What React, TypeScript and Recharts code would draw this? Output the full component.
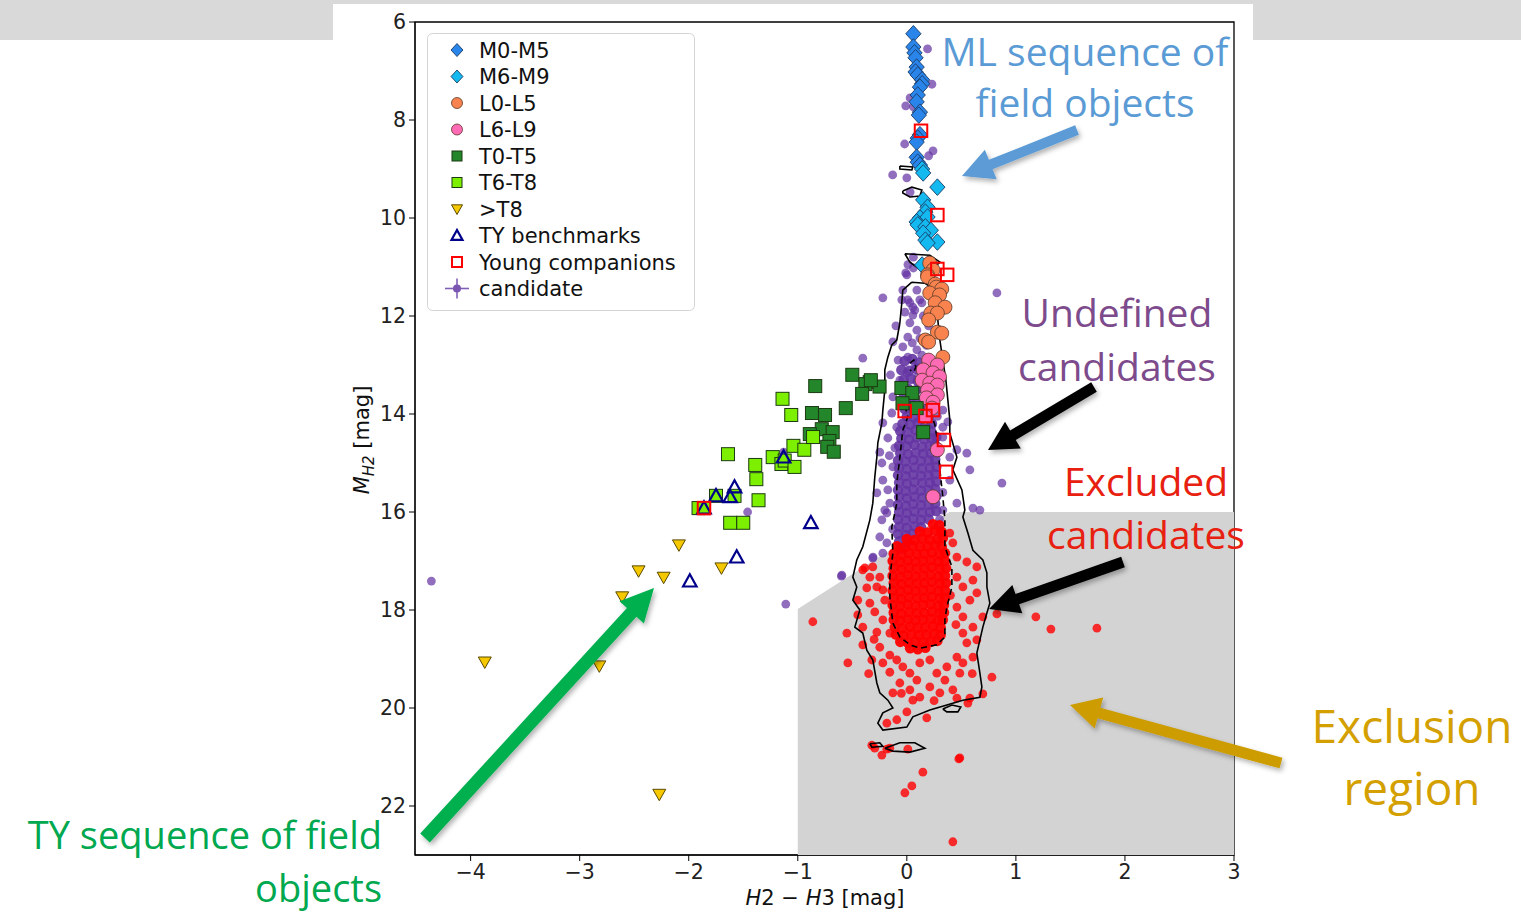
import React from 'react';
import { ScatterChart, Scatter, XAxis, YAxis, ReferenceArea, Legend } from 'recharts';

// ---------- axis ticks ----------
const xTicks = [-4, -3, -2, -1, 0, 1, 2, 3];
const yTicks = [6, 8, 10, 12, 14, 16, 18, 20, 22];

// ---------- exclusion region & contours (x = H2-H3, y = M_H2) ----------
const exclusionRegion = [[-1, 23], [-1, 17.98], [0.39, 16], [3, 16], [3, 23], [-1, 23]];

const outerContour = [
  [0.046, 11.31], [0.165, 11.33], [0.257, 11.47], [0.275, 11.78], [0.284, 12.08], [0.303, 12.49], [0.33, 12.9],
  [0.358, 13.31], [0.376, 13.71], [0.394, 14.12], [0.394, 14.39], [0.459, 14.88], [0.422, 15.14], [0.505, 15.55],
  [0.532, 15.96], [0.514, 16.1], [0.56, 16.43], [0.606, 16.78], [0.697, 16.98], [0.734, 17.24], [0.734, 17.53],
  [0.761, 17.86], [0.734, 18.06], [0.697, 18.35], [0.67, 18.61], [0.642, 18.88], [0.67, 19.29], [0.688, 19.57],
  [0.67, 19.78], [0.514, 19.84], [0.367, 19.94], [0.211, 20.04], [0.055, 20.18], [0.0, 20.39], [-0.22, 20.45],
  [-0.266, 20.31], [-0.22, 20.1], [-0.128, 20.0], [-0.174, 19.84], [-0.248, 19.69], [-0.275, 19.49], [-0.312, 19.02],
  [-0.367, 18.82], [-0.404, 18.47], [-0.477, 18.35], [-0.431, 18.0], [-0.495, 17.8], [-0.459, 17.53], [-0.495, 17.33],
  [-0.459, 16.98], [-0.404, 16.71], [-0.339, 16.16], [-0.312, 15.82], [-0.294, 15.29], [-0.275, 14.88], [-0.266, 14.59],
  [-0.229, 14.18], [-0.22, 13.92], [-0.202, 13.51], [-0.202, 13.1], [-0.174, 12.84], [-0.138, 12.59], [-0.092, 12.49],
  [-0.064, 12.14], [-0.046, 11.73], [-0.037, 11.47], [0.046, 11.31],
];
const innerContour = [
  [-0.018, 13.82], [0.165, 13.78], [0.211, 13.92], [0.257, 14.22], [0.284, 14.59], [0.303, 15.14], [0.33, 15.69],
  [0.349, 16.16], [0.349, 16.71], [0.413, 17.12], [0.413, 17.53], [0.367, 17.94], [0.349, 18.2], [0.349, 18.55],
  [0.275, 18.71], [0.119, 18.78], [0.028, 18.71], [-0.064, 18.55], [-0.128, 18.27], [-0.156, 17.73], [-0.156, 17.33],
  [-0.128, 16.84], [-0.138, 16.31], [-0.092, 15.82], [-0.092, 15.41], [-0.064, 14.88], [-0.037, 14.33], [0.009, 14.06],
  [-0.018, 13.82],
];
const loopA = [[-0.018, 10.73], [0.211, 10.76], [0.303, 10.9], [0.229, 11.06], [0.101, 11.02], [0.028, 10.9], [-0.018, 10.73]];
const loopB = [[-0.037, 9.45], [0.046, 9.37], [0.138, 9.43], [0.119, 9.55], [0.028, 9.57], [-0.037, 9.49], [-0.037, 9.45]];
const loopC = [[-0.064, 8.94], [0.055, 8.96], [0.046, 9.02], [-0.064, 9.0], [-0.064, 8.94]];
const loopD = [[0.33, 20.02], [0.413, 19.94], [0.495, 19.98], [0.468, 20.08], [0.367, 20.08], [0.33, 20.02]];
const loopE = [[-0.202, 20.82], [-0.064, 20.71], [0.073, 20.71], [0.165, 20.82], [0.028, 20.9], [-0.128, 20.88], [-0.202, 20.82]];
const loopF = [[-0.339, 20.73], [-0.248, 20.71], [-0.22, 20.78], [-0.321, 20.8], [-0.339, 20.73]];
const loopG = [[0.028, 12.96], [0.064, 12.9], [0.083, 13.04], [0.064, 13.14], [0.028, 13.1]];

// ---------- candidates ----------
const candidatesSparse = [
  [-0.22, 11.63], [-0.018, 11.92], [0.055, 11.98], [0.028, 12.14], [0.092, 12.29], [0.009, 12.43], [-0.128, 12.53],
  [-0.037, 12.63], [0.092, 12.69], [0.138, 12.8], [0.009, 12.84], [-0.404, 12.86], [0.073, 13.04], [0.0, 13.16],
  [-0.064, 13.31], [0.101, 13.24], [-0.128, 13.65], [0.0, 13.76], [-0.138, 13.98], [0.33, 13.92], [0.376, 14.16],
  [-0.22, 14.18], [-0.092, 14.27], [0.33, 14.27], [-0.174, 14.49], [0.33, 14.47], [-0.11, 14.69], [-0.248, 14.78],
  [0.394, 14.88], [0.459, 14.73], [0.55, 14.8], [0.578, 15.14], [-0.229, 15.0], [-0.128, 15.08], [-0.22, 15.35],
  [0.394, 15.35], [-0.275, 15.61], [-0.156, 15.82], [-0.202, 15.96], [0.459, 15.82], [0.67, 15.96], [-0.174, 15.55],
  [0.33, 15.96], [-0.229, 16.16], [-0.183, 16.02], [-0.248, 16.51], [-0.22, 16.84], [-0.312, 16.94], [-0.596, 17.29],
  [-0.183, 16.63], [0.606, 15.92], [0.0, 11.16], [0.092, 11.47], [0.009, 11.67], [0.138, 11.73], [0.055, 11.82],
  [-0.037, 11.47], [-0.046, 11.67], [0.028, 11.73], [0.073, 11.88], [0.826, 11.53], [0.119, 11.67], [0.15, 12.0],
  [0.2, 12.2], [0.12, 12.45], [0.18, 12.6], [-0.08, 12.9], [0.05, 12.55], [0.2, 12.95], [-0.1, 12.2], [0.16, 13.45],
  [-0.15, 13.2], [0.28, 14.05], [-0.16, 14.85], [0.33, 15.6], [-0.13, 16.35], [0.3, 16.15],
  [-4.36, 17.41], [-1.11, 17.88], [-1.46, 16.0], [-0.6, 17.31], [-0.31, 16.92], [0.872, 15.41], [-1.13, 14.78],
  [0.19, 6.55], [0.23, 7.27], [-0.01, 7.71], [0.06, 7.73], [0.03, 7.55], [-0.02, 8.49], [0.24, 8.63], [0.2, 8.73],
  [-0.13, 9.12], [0.0, 9.18], [0.03, 9.47], [0.06, 10.8], [-0.01, 11.12], [0.06, 11.02], [0.01, 10.95],
];
const candidatesCore = [
  [-0.02, 12.92], [0.05, 12.88], [0.11, 12.95],
  [-0.05, 13.1], [0.02, 13.12], [0.09, 13.08], [0.14, 13.14],
  [-0.03, 13.3], [0.04, 13.28], [0.1, 13.33],
  [-0.06, 13.5], [0.01, 13.48], [0.08, 13.52], [0.13, 13.47],
  [-0.04, 13.7], [0.03, 13.68], [0.1, 13.72],
  [-0.02, 13.9], [0.05, 13.88], [0.12, 13.92], [0.18, 13.9],
  [0.0, 14.05], [0.07, 14.07], [0.14, 14.03], [0.2, 14.08],
  [-0.04, 14.2], [0.03, 14.22], [0.1, 14.18], [0.17, 14.21], [0.23, 14.2],
  [-0.06, 14.35], [0.01, 14.37], [0.08, 14.33], [0.15, 14.36], [0.22, 14.34],
  [-0.05, 14.5], [0.02, 14.52], [0.09, 14.48], [0.16, 14.51], [0.23, 14.5], [0.27, 14.47],
  [-0.07, 14.65], [0.0, 14.66], [0.07, 14.63], [0.14, 14.67], [0.21, 14.65], [0.26, 14.64],
  [-0.06, 14.8], [0.01, 14.82], [0.08, 14.79], [0.15, 14.81], [0.22, 14.8], [0.28, 14.78],
  [-0.08, 14.95], [-0.01, 14.97], [0.06, 14.94], [0.13, 14.96], [0.2, 14.95], [0.26, 14.93],
  [-0.07, 15.1], [0.0, 15.12], [0.07, 15.09], [0.14, 15.11], [0.21, 15.1], [0.27, 15.08],
  [-0.08, 15.25], [-0.01, 15.27], [0.06, 15.24], [0.13, 15.26], [0.2, 15.25], [0.26, 15.23],
  [-0.07, 15.4], [0.0, 15.42], [0.07, 15.39], [0.14, 15.41], [0.21, 15.4], [0.27, 15.38],
  [-0.08, 15.55], [-0.01, 15.57], [0.06, 15.54], [0.13, 15.56], [0.2, 15.55], [0.26, 15.53],
  [-0.07, 15.7], [0.0, 15.72], [0.07, 15.69], [0.14, 15.71], [0.21, 15.7], [0.27, 15.68],
  [-0.08, 15.85], [-0.01, 15.87], [0.06, 15.84], [0.13, 15.86], [0.2, 15.85], [0.26, 15.83],
  [-0.07, 16.0], [0.0, 16.02], [0.07, 15.99], [0.14, 16.01], [0.21, 16.0], [0.27, 15.98],
  [-0.08, 16.15], [-0.01, 16.17], [0.06, 16.14], [0.13, 16.16], [0.2, 16.15],
  [-0.07, 16.3], [0.0, 16.32], [0.07, 16.29], [0.13, 16.31],
  [-0.08, 16.45], [-0.01, 16.47], [0.05, 16.44],
  [-0.07, 16.6], [0.0, 16.62],
  [-0.06, 16.75],
];

// ---------- excluded candidates ----------
const excludedSparse = [
  [-0.385, 17.14], [-0.312, 17.12], [-0.248, 17.33], [-0.367, 17.55], [-0.275, 17.53], [-0.22, 17.59], [-0.45, 17.8],
  [-0.339, 17.86], [-0.202, 17.8], [-0.294, 18.04], [-0.22, 18.2], [-0.404, 18.35], [-0.55, 18.47], [-0.275, 18.45],
  [-0.156, 18.47], [-0.248, 18.76], [-0.404, 18.71], [-0.156, 18.92], [-0.321, 19.02], [-0.541, 19.08], [-0.22, 19.08],
  [-0.092, 19.02], [-0.037, 19.16], [-0.156, 19.27], [0.028, 19.29], [0.119, 19.08], [0.211, 19.02], [0.092, 19.43],
  [0.275, 19.29], [0.367, 19.16], [0.349, 19.43], [0.211, 19.57], [-0.064, 19.49], [0.028, 19.63], [-0.128, 19.69],
  [0.119, 19.78], [0.303, 19.69], [0.422, 19.63], [0.486, 19.29], [0.514, 19.08], [0.459, 18.96], [0.606, 18.96],
  [0.55, 18.67], [0.642, 18.61], [0.514, 18.47], [0.606, 18.35], [0.697, 18.14], [0.514, 18.14], [0.459, 17.94],
  [0.578, 17.8], [0.642, 17.65], [0.514, 17.53], [0.606, 17.39], [0.459, 17.33], [0.55, 17.02], [0.642, 17.12],
  [0.459, 16.92], [0.422, 16.63], [0.303, 16.37], [0.394, 16.43], [0.826, 18.08], [0.78, 19.37], [0.697, 19.71],
  [0.578, 19.8], [0.459, 19.8], [0.055, 19.84], [0.0, 20.08], [-0.092, 20.24], [-0.183, 20.31], [0.183, 20.2],
  [-0.156, 20.82], [0.009, 20.84], [-0.294, 20.82], [-0.229, 20.96], [0.486, 21.02], [-0.404, 17.18], [-0.339, 17.33],
  [-0.862, 18.24], [1.183, 18.14], [1.321, 18.39], [1.743, 18.37], [0.56, 19.9], [0.477, 21.04], [0.147, 21.31],
  [0.046, 21.59], [-0.018, 21.73], [0.422, 22.73], [-0.321, 20.76], [-0.183, 20.84],
  [-0.3, 18.6], [0.45, 18.3], [0.4, 17.7], [-0.35, 19.3], [0.25, 19.85], [-0.05, 19.7], [0.6, 19.3], [-0.45, 18.1],
];
const excludedCore = [
  [0.24, 16.25], [0.3, 16.27],
  [0.12, 16.4], [0.19, 16.42], [0.26, 16.38], [0.32, 16.41],
  [0.0, 16.55], [0.07, 16.57], [0.14, 16.54], [0.21, 16.56], [0.28, 16.55], [0.33, 16.53],
  [-0.09, 16.7], [-0.02, 16.72], [0.05, 16.69], [0.12, 16.71], [0.19, 16.7], [0.26, 16.68], [0.32, 16.71],
  [-0.12, 16.85], [-0.05, 16.87], [0.02, 16.84], [0.09, 16.86], [0.16, 16.85], [0.23, 16.83], [0.3, 16.86], [0.35, 16.84],
  [-0.13, 17.0], [-0.06, 17.02], [0.01, 16.99], [0.08, 17.01], [0.15, 17.0], [0.22, 16.98], [0.29, 17.01], [0.35, 17.0],
  [-0.12, 17.15], [-0.05, 17.17], [0.02, 17.14], [0.09, 17.16], [0.16, 17.15], [0.23, 17.13], [0.3, 17.16], [0.36, 17.15],
  [-0.13, 17.3], [-0.06, 17.32], [0.01, 17.29], [0.08, 17.31], [0.15, 17.3], [0.22, 17.28], [0.29, 17.31], [0.35, 17.3],
  [-0.12, 17.45], [-0.05, 17.47], [0.02, 17.44], [0.09, 17.46], [0.16, 17.45], [0.23, 17.43], [0.3, 17.46], [0.36, 17.45],
  [-0.13, 17.6], [-0.06, 17.62], [0.01, 17.59], [0.08, 17.61], [0.15, 17.6], [0.22, 17.58], [0.29, 17.61], [0.35, 17.6],
  [-0.12, 17.75], [-0.05, 17.77], [0.02, 17.74], [0.09, 17.76], [0.16, 17.75], [0.23, 17.73], [0.3, 17.76], [0.35, 17.75],
  [-0.13, 17.9], [-0.06, 17.92], [0.01, 17.89], [0.08, 17.91], [0.15, 17.9], [0.22, 17.88], [0.29, 17.91], [0.34, 17.9],
  [-0.12, 18.05], [-0.05, 18.07], [0.02, 18.04], [0.09, 18.06], [0.16, 18.05], [0.23, 18.03], [0.3, 18.06], [0.34, 18.05],
  [-0.12, 18.2], [-0.06, 18.22], [0.01, 18.19], [0.08, 18.21], [0.15, 18.2], [0.22, 18.18], [0.29, 18.21], [0.33, 18.2],
  [-0.11, 18.35], [-0.04, 18.37], [0.03, 18.34], [0.1, 18.36], [0.17, 18.35], [0.24, 18.33], [0.31, 18.36],
  [-0.1, 18.5], [-0.03, 18.52], [0.04, 18.49], [0.11, 18.51], [0.18, 18.5], [0.25, 18.48], [0.31, 18.51],
  [-0.06, 18.65], [0.01, 18.67], [0.08, 18.64], [0.15, 18.66], [0.22, 18.65], [0.28, 18.63],
  [0.03, 18.78], [0.1, 18.8], [0.17, 18.77],
];

// ---------- known objects ----------
const m0m5 = [
  [0.06, 6.24], [0.06, 6.51], [0.07, 6.63], [0.08, 6.73], [0.09, 6.92], [0.08, 7.02], [0.1, 7.08], [0.14, 7.18],
  [0.14, 7.26], [0.12, 7.33], [0.1, 7.49], [0.09, 7.63], [0.12, 7.84], [0.11, 7.9], [0.12, 8.3], [0.1, 8.37],
  [0.09, 8.45], [0.09, 8.76], [0.1, 8.86], [0.12, 8.92],
];
const m6m9 = [
  [0.14, 9.0], [0.15, 9.08], [0.28, 9.37], [0.15, 9.63], [0.19, 9.78], [0.17, 9.88], [0.12, 10.0], [0.19, 9.98],
  [0.09, 10.08], [0.1, 10.14], [0.17, 10.18], [0.22, 10.25], [0.15, 10.31], [0.17, 10.45], [0.28, 10.49],
  [0.19, 10.51], [0.14, 10.96],
];
const l0l5 = [
  [0.21, 10.92], [0.24, 11.06], [0.19, 11.16], [0.19, 11.2], [0.26, 11.35], [0.27, 11.41], [0.32, 11.45],
  [0.21, 11.53], [0.3, 11.57], [0.26, 11.73], [0.35, 11.82], [0.22, 11.94], [0.28, 11.94], [0.2, 12.08],
  [0.28, 12.33], [0.32, 12.35], [0.17, 12.49], [0.2, 12.53], [0.33, 12.84], [0.24, 13.04],
];
const l6l9 = [
  [0.2, 12.9], [0.28, 13.0], [0.15, 13.1], [0.24, 13.16], [0.3, 13.24], [0.14, 13.31], [0.21, 13.37], [0.28, 13.41],
  [0.19, 13.51], [0.28, 13.61], [0.18, 13.67], [0.24, 13.76], [0.23, 13.88], [0.17, 14.06], [0.28, 14.73], [0.24, 15.69],
];
const t0t5 = [
  [-0.84, 13.43], [-0.5, 13.2], [-0.34, 13.35], [-0.38, 13.39], [-0.41, 13.59], [-0.25, 13.44], [-0.33, 13.31],
  [-0.56, 13.88], [-0.87, 13.98], [-0.75, 14.02], [-0.78, 14.31], [-0.68, 14.37], [-0.89, 14.41], [-0.71, 14.55],
  [-0.73, 14.67], [-0.67, 14.77], [-0.05, 13.47], [0.05, 13.57], [-0.04, 13.78], [0.09, 13.88], [0.15, 14.37],
];
const t6t8 = [
  [-1.14, 13.69], [-1.06, 14.02], [-1.64, 14.82], [-1.39, 15.04], [-1.38, 15.33], [-1.36, 15.76], [-1.23, 14.88],
  [-1.15, 15.02], [-1.12, 14.95], [-1.04, 14.65], [-0.94, 14.73], [-1.03, 15.08], [-0.86, 14.47], [-1.62, 16.22],
  [-1.5, 16.22], [-1.75, 15.67], [-1.58, 15.67], [-1.91, 15.92], [-1.86, 15.92],
];
const lateT = [
  [-2.09, 16.67], [-2.46, 17.2], [-2.23, 17.33], [-2.61, 17.73], [-1.7, 17.14], [-3.87, 19.06], [-2.82, 19.14], [-2.27, 21.76],
];
const tyBenchmarks = [
  [-1.99, 17.41], [-1.56, 16.92], [-0.88, 16.22], [-1.13, 14.88], [-1.58, 15.49], [-1.62, 15.69], [-1.75, 15.67], [-1.86, 15.92],
];
const youngCompanions = [
  [-1.86, 15.92], [0.13, 8.22], [0.28, 9.94], [0.28, 11.04], [0.37, 11.16], [-0.02, 13.94], [0.17, 14.04],
  [0.24, 13.92], [0.34, 14.53], [0.36, 15.18],
];

const legendLabels = ['M0-M5', 'M6-M9', 'L0-L5', 'L6-L9', 'T0-T5', 'T6-T8', '>T8', 'TY benchmarks', 'Young companions', 'candidate'];

// ---------- helpers ----------
const pts = (a: number[][]) => a.map(([x, y]) => ({ x, y }));

const C = {
  m0: '#2a85ea', m6: '#14b9f0', l0: '#f8834f', l6: '#ff6bb4', t0: '#23862a', t6: '#7cf000', lt: '#f5c800',
  ty: '#00008b', yc: '#ff0000', cand: '#6535a3', excl: '#ff0000', region: '#d3d3d3',
};

const mkDiamond = (fill: string, r = 8.3) => (p: any) => (
  <polygon points={`${p.cx},${p.cy - r} ${p.cx + r * 0.92},${p.cy} ${p.cx},${p.cy + r} ${p.cx - r * 0.92},${p.cy}`}
    fill={fill} stroke="#1b3c66" strokeWidth={0.9} />
);
const mkCircle = (fill: string, r = 7) => (p: any) => (
  <circle cx={p.cx} cy={p.cy} r={r} fill={fill} stroke="#5a3a2a" strokeWidth={0.8} />
);
const mkSquare = (fill: string, s = 13) => (p: any) => (
  <rect x={p.cx - s / 2} y={p.cy - s / 2} width={s} height={s} fill={fill} stroke="#1c3a12" strokeWidth={1} />
);
const mkTriDown = (fill: string, s = 13) => (p: any) => (
  <polygon points={`${p.cx - s / 2},${p.cy - s * 0.38} ${p.cx + s / 2},${p.cy - s * 0.38} ${p.cx},${p.cy + s * 0.5}`}
    fill={fill} stroke="#5a4a00" strokeWidth={1} />
);
const mkTriUp = (color: string, s = 13.5) => (p: any) => (
  <polygon points={`${p.cx - s / 2},${p.cy + s * 0.4} ${p.cx + s / 2},${p.cy + s * 0.4} ${p.cx},${p.cy - s * 0.5}`}
    fill="none" stroke={color} strokeWidth={2.2} />
);
const mkOpenSquare = (color: string, s = 12.5) => (p: any) => (
  <rect x={p.cx - s / 2} y={p.cy - s / 2} width={s} height={s} fill="none" stroke={color} strokeWidth={2} />
);
const mkDot = (fill: string, r = 4.3, op = 0.75) => (p: any) => (
  <circle cx={p.cx} cy={p.cy} r={r} fill={fill} fillOpacity={op} />
);
const noShape = () => <g />;

function legendMarker(i: number, cx: number, cy: number) {
  const p = { cx, cy };
  switch (i) {
    case 0: return mkDiamond(C.m0, 6.5)(p);
    case 1: return mkDiamond(C.m6, 6.5)(p);
    case 2: return mkCircle(C.l0, 5.5)(p);
    case 3: return mkCircle(C.l6, 5.5)(p);
    case 4: return mkSquare(C.t0, 10)(p);
    case 5: return mkSquare(C.t6, 10)(p);
    case 6: return mkTriDown(C.lt, 11)(p);
    case 7: return mkTriUp(C.ty, 11)(p);
    case 8: return mkOpenSquare(C.yc, 10)(p);
    default:
      return (
        <g>
          <line x1={cx - 12} x2={cx + 12} y1={cy} y2={cy} stroke="#8060b8" strokeWidth={1.6} />
          <line x1={cx} x2={cx} y1={cy - 10} y2={cy + 10} stroke="#8060b8" strokeWidth={1.6} />
          <circle cx={cx} cy={cy} r={4} fill="#7a55b2" />
        </g>
      );
  }
}

function LegendBox() {
  return (
    <svg width={268} height={278} style={{ display: 'block' }}>
      <rect x={0.5} y={0.5} width={267} height={277} rx={5} fill="#fff" fillOpacity={0.85} stroke="#d4d4d4" />
      {legendLabels.map((lab, i) => {
        const cy = 17 + i * 26.5;
        return (
          <g key={lab}>
            {legendMarker(i, 30, cy)}
            <text x={52} y={cy} dy="0.36em" fontFamily="DejaVu Sans" fontSize={21} fill="#111">{lab}</text>
          </g>
        );
      })}
    </svg>
  );
}

function Arrow({ x1, y1, x2, y2, w, hl, hw, color }: any) {
  const dx = x2 - x1, dy = y2 - y1;
  const L = Math.hypot(dx, dy);
  const ux = dx / L, uy = dy / L, nx = -uy, ny = ux;
  const bx = x2 - ux * hl, by = y2 - uy * hl;
  const p = [
    [x1 + nx * w / 2, y1 + ny * w / 2], [bx + nx * w / 2, by + ny * w / 2], [bx + nx * hw / 2, by + ny * hw / 2],
    [x2, y2], [bx - nx * hw / 2, by - ny * hw / 2], [bx - nx * w / 2, by - ny * w / 2], [x1 - nx * w / 2, y1 - ny * w / 2],
  ];
  return <polygon points={p.map((q) => q.join(',')).join(' ')} fill={color} filter="url(#shadow)" />;
}

const fmtX = (v: number) => (v < 0 ? '\u2212' + Math.abs(v) : String(v));
const annFont = 'Open Sans';

export default function App() {
  return (
    <div style={{ position: 'absolute', left: 0, top: 0, width: 1521, height: 913, background: '#fff', overflow: 'hidden' }}>
      <div style={{ position: 'absolute', left: 0, top: 0, width: 1521, height: 40, background: '#d9d9d9' }} />
      <div style={{ position: 'absolute', left: 333, top: 4, width: 920, height: 909, background: '#fff' }} />
      <div style={{ position: 'absolute', left: 0, top: 0 }}>
        <ScatterChart width={1521} height={913} margin={{ top: 22, right: 287, bottom: 8, left: 355 }}>
          <XAxis type="number" dataKey="x" domain={[-4.51, 3]} ticks={xTicks} allowDataOverflow height={50}
            tickFormatter={fmtX} tickSize={6} tickMargin={3} stroke="#000"
            tick={{ fontFamily: 'DejaVu Sans', fontSize: 20.5, fill: '#222' }} />
          <YAxis type="number" dataKey="y" domain={[6, 23]} reversed ticks={yTicks} allowDataOverflow width={60}
            tickSize={6} tickMargin={3} stroke="#000"
            tick={{ fontFamily: 'DejaVu Sans', fontSize: 20.5, fill: '#222' }} />
          <Legend layout="vertical" align="center" verticalAlign="middle" content={() => <LegendBox />}
            wrapperStyle={{ left: 427, top: 33, width: 268, height: 278 }} />

          <Scatter name="region" data={pts(exclusionRegion)} shape={noShape} line={{ fill: C.region, stroke: 'none' }}
            lineType="joint" isAnimationActive={false} legendType="none" />
          <Scatter name="candidate" data={pts(candidatesSparse)} shape={mkDot(C.cand, 4.4, 0.72)} isAnimationActive={false} />
          <Scatter name="candidate core" data={pts(candidatesCore)} shape={mkDot(C.cand, 5.3, 0.9)} isAnimationActive={false} />
          <Scatter name="excluded" data={pts(excludedSparse)} shape={mkDot(C.excl, 4.4, 0.8)} isAnimationActive={false} />
          <Scatter name="excluded core" data={pts(excludedCore)} shape={mkDot(C.excl, 5.3, 0.95)} isAnimationActive={false} />

          {[outerContour, loopA, loopB, loopC, loopD, loopE, loopF].map((c, i) => (
            <Scatter key={'oc' + i} data={pts(c)} shape={noShape} lineType="joint"
              line={{ stroke: '#000', strokeWidth: 1.6, fill: 'none' }} isAnimationActive={false} />
          ))}
          {[innerContour, loopG].map((c, i) => (
            <Scatter key={'ic' + i} data={pts(c)} shape={noShape} lineType="joint"
              line={{ stroke: '#000', strokeWidth: 1.6, fill: 'none', strokeDasharray: '6 4' }} isAnimationActive={false} />
          ))}

          <Scatter name="M0-M5" data={pts(m0m5)} shape={mkDiamond(C.m0)} isAnimationActive={false} />
          <Scatter name="M6-M9" data={pts(m6m9)} shape={mkDiamond(C.m6)} isAnimationActive={false} />
          <Scatter name="L0-L5" data={pts(l0l5)} shape={mkCircle(C.l0)} isAnimationActive={false} />
          <Scatter name="L6-L9" data={pts(l6l9)} shape={mkCircle(C.l6)} isAnimationActive={false} />
          <Scatter name="T0-T5" data={pts(t0t5)} shape={mkSquare(C.t0)} isAnimationActive={false} />
          <Scatter name="T6-T8" data={pts(t6t8)} shape={mkSquare(C.t6)} isAnimationActive={false} />
          <Scatter name=">T8" data={pts(lateT)} shape={mkTriDown(C.lt)} isAnimationActive={false} />
          <Scatter name="TY benchmarks" data={pts(tyBenchmarks)} shape={mkTriUp(C.ty)} isAnimationActive={false} />
          <Scatter name="Young companions" data={pts(youngCompanions)} shape={mkOpenSquare(C.yc)} isAnimationActive={false} />

          <ReferenceArea x1={-4.51} x2={3} y1={6} y2={23} fill="none" stroke="#000" strokeWidth={1.3} ifOverflow="visible" />
        </ScatterChart>
      </div>

      <svg width={1521} height={913} style={{ position: 'absolute', left: 0, top: 0, pointerEvents: 'none' }}>
        <defs>
          <filter id="shadow" x="-20%" y="-20%" width="140%" height="140%">
            <feDropShadow dx="2" dy="3" stdDeviation="2.5" floodColor="#000" floodOpacity="0.3" />
          </filter>
        </defs>
        {/* axis titles */}
        <text x={825} y={905} textAnchor="middle" fontFamily="DejaVu Sans" fontSize={21} fill="#111">
          <tspan fontStyle="italic">H</tspan>2 {'\u2212'} <tspan fontStyle="italic">H</tspan>3 [mag]
        </text>
        <text x={369} y={440} transform="rotate(-90 369 440)" textAnchor="middle" fontFamily="DejaVu Sans" fontSize={21} fill="#111">
          <tspan fontStyle="italic">M</tspan>
          <tspan fontStyle="italic" fontSize={15} dy={5}>H2</tspan>
          <tspan dy={-5}> [mag]</tspan>
        </text>

        {/* annotations */}
        <text x={1085} y={66} textAnchor="middle" fontFamily={annFont} fontSize={39} fill="#5b9bd5">ML sequence of</text>
        <text x={1085} y={117} textAnchor="middle" fontFamily={annFont} fontSize={39} fill="#5b9bd5">field objects</text>
        <Arrow x1={1077} y1={130} x2={962} y2={176} w={10} hl={31} hw={32} color="#5b9bd5" />

        <text x={1117} y={327} textAnchor="middle" fontFamily={annFont} fontSize={39} fill="#7d4b8c">Undefined</text>
        <text x={1117} y={381} textAnchor="middle" fontFamily={annFont} fontSize={39} fill="#7d4b8c">candidates</text>
        <Arrow x1={1094} y1={387} x2={988} y2={450} w={11} hl={29} hw={31} color="#000" />

        <text x={1146} y={496} textAnchor="middle" fontFamily={annFont} fontSize={39} fill="#e8200f">Excluded</text>
        <text x={1146} y={549} textAnchor="middle" fontFamily={annFont} fontSize={39} fill="#e8200f">candidates</text>
        <Arrow x1={1123} y1={562} x2={989} y2={609} w={11} hl={30} hw={30} color="#000" />

        <text x={1412} y={743} textAnchor="middle" fontFamily={annFont} fontSize={46} fill="#d4a000">Exclusion</text>
        <text x={1412} y={805} textAnchor="middle" fontFamily={annFont} fontSize={46} fill="#d4a000">region</text>
        <Arrow x1={1281} y1={763} x2={1070} y2={705} w={11} hl={30} hw={32} color="#cc9c00" />

        <text x={382} y={849} textAnchor="end" fontFamily={annFont} fontSize={38} fill="#00a84f">TY sequence of field</text>
        <text x={382} y={902} textAnchor="end" fontFamily={annFont} fontSize={38} fill="#00a84f">objects</text>
        <Arrow x1={425} y1={838} x2={654} y2={588} w={13} hl={33} hw={33} color="#00b050" />
      </svg>
    </div>
  );
}
